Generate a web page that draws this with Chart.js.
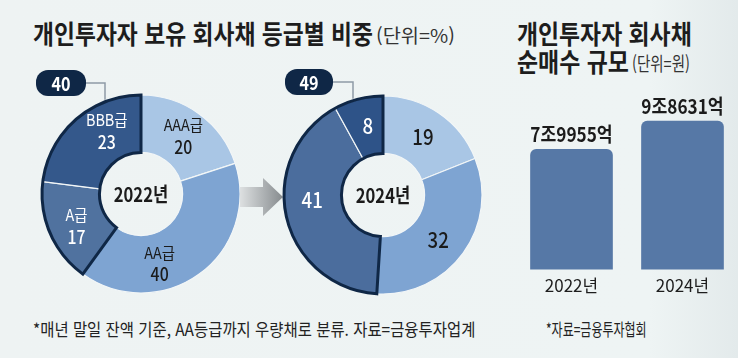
<!DOCTYPE html>
<html lang="ko">
<head>
<meta charset="utf-8">
<script src="https://cdn.jsdelivr.net/npm/chart.js@4.4.1/dist/chart.umd.min.js"></script>
<style>
  html, body { margin: 0; padding: 0; }
  body {
    width: 738px; height: 358px; overflow: hidden; position: relative;
    background: linear-gradient(to right, #eef3f3 0%, #eef4f4 88%, #e3eaeb 100%);
    font-family: "Noto Sans CJK KR", "Noto Sans", sans-serif; color: #1d1d1d;
  }
  .t { position: absolute; white-space: nowrap; line-height: 1; transform-origin: 0 50%; }
  .box { position: absolute; }
</style>
</head>
<body>
<div class="t" data-w="340" style="left:33px; top:20px; font-size:26px; font-weight:700;">개인투자자 보유 회사채 등급별 비중</div>
<div class="t" data-w="79" style="left:376px; top:25px; font-size:19px; color:#333;">(단위=%)</div>
<div class="t" data-w="175" style="left:517px; top:20px; font-size:26px; font-weight:700;">개인투자자 회사채</div>
<div class="t" data-w="112" style="left:517px; top:48px; font-size:26px; font-weight:700;">순매수 규모</div>
<div class="t" data-w="58" style="left:632px; top:53px; font-size:19px; color:#333;">(단위=원)</div>
<div class="t" data-w="442" style="left:33px; top:320px; font-size:17px; color:#222;">*매년 말일 잔액 기준, AA등급까지 우량채로 분류. 자료=금융투자업계</div>
<div class="t" data-w="101" style="left:546px; top:320px; font-size:17px; color:#222;">*자료=금융투자협회</div>

<div class="box" style="left:0; top:0; width:282px; height:388px;"><canvas id="ring2022"></canvas></div>
<div class="box" style="left:0; top:0; width:766px; height:390px;"><canvas id="ring2024"></canvas></div>
<div class="box" style="left:516px; top:89px; width:222px; height:213px;"><canvas id="netBuy"></canvas></div>

<script>
// 데이터
const years = ["2022년", "2024년"];
const grades = ["AAA급", "AA급", "A급", "BBB급"];
const share2022 = [20, 40, 17, 23];
const share2024 = [19, 32, 41, 8];
const netBuy = [79955, 98631]; // 억원
const lowGrades = [2, 3];      // A급, BBB급 묶음

const NAVY = "#0f2746";
const FONT = '"Noto Sans CJK KR", "Noto Sans", sans-serif';

// 제목/주석 글자 폭 맞추기 (좁은 글꼴 느낌)
document.querySelectorAll(".t").forEach(el => {
  const w = el.offsetWidth;
  el.style.transform = "scaleX(" + (Number(el.dataset.w) / w) + ")";
});

function drawText(ctx, s, x, y, font, color, sx) {
  ctx.save();
  ctx.font = font;
  ctx.fillStyle = color;
  ctx.textAlign = "center";
  ctx.textBaseline = "middle";
  ctx.translate(x, y);
  ctx.scale(sx, 1);
  ctx.fillText(s, 0, 0);
  ctx.restore();
}

function roundRect(ctx, x, y, w, h, r) {
  ctx.beginPath();
  ctx.moveTo(x + r, y);
  ctx.arcTo(x + w, y, x + w, y + h, r);
  ctx.arcTo(x + w, y + h, x, y + h, r);
  ctx.arcTo(x, y + h, x, y, r);
  ctx.arcTo(x, y, x + w, y, r);
  ctx.closePath();
}

// 도넛 장식: 묶음 테두리, 라벨, 가운데 연도, 말풍선
function ringDeco(o) {
  return {
    id: "ringDeco",
    beforeDatasetsDraw(chart) {
      if (!o.arrow) return;
      const ctx = chart.ctx;
      const g = ctx.createLinearGradient(240, 0, 283, 0);
      g.addColorStop(0, "#dde0e1");
      g.addColorStop(1, "#868b8e");
      ctx.save();
      ctx.fillStyle = g;
      ctx.beginPath();
      ctx.moveTo(240, 187); ctx.lineTo(263, 187); ctx.lineTo(263, 178);
      ctx.lineTo(283, 197); ctx.lineTo(263, 216); ctx.lineTo(263, 207);
      ctx.lineTo(240, 207);
      ctx.closePath();
      ctx.fill();
      ctx.restore();
    },
    afterDatasetsDraw(chart) {
      const ctx = chart.ctx;
      const arcs = chart.getDatasetMeta(0).data;
      const vals = chart.data.datasets[0].data;
      const a0 = arcs[lowGrades[0]], a1 = arcs[lowGrades[lowGrades.length - 1]];
      const cx = a0.x, cy = a0.y, ro = a0.outerRadius, ri = a0.innerRadius;

      ctx.save();
      ctx.beginPath();
      ctx.arc(cx, cy, ro, a0.startAngle, a1.endAngle);
      ctx.arc(cx, cy, ri, a1.endAngle, a0.startAngle, true);
      ctx.closePath();
      ctx.lineWidth = 3;
      ctx.strokeStyle = NAVY;
      ctx.stroke();
      ctx.restore();

      arcs.forEach((arc, i) => {
        const mid = (arc.startAngle + arc.endAngle) / 2 + o.shift[i] * Math.PI / 180;
        const r = o.labelR;
        const x = cx + Math.cos(mid) * r, y = cy + Math.sin(mid) * r;
        const col = lowGrades.includes(i) ? "#ffffff" : "#1b1b1b";
        if (o.names) {
          drawText(ctx, grades[i], x, y - 11, "400 16px " + FONT, col, 0.9);
          drawText(ctx, String(vals[i]), x, y + 11, "500 18px " + FONT, col, 0.88);
        } else {
          drawText(ctx, String(vals[i]), x, y, "500 22px " + FONT, col, 0.85);
        }
      });

      drawText(ctx, o.year, cx, cy, "700 20px " + FONT, "#1b1b1b", 0.83);

      // 말풍선 + 연결선
      const p = o.pill;
      const sum = lowGrades.reduce((s, i) => s + vals[i], 0);
      ctx.save();
      ctx.strokeStyle = "#8e9ba6";
      ctx.lineWidth = 1.5;
      ctx.beginPath();
      const dx = o.leadX - cx;
      const yEdge = cy - Math.sqrt(ro * ro - dx * dx) - 2;
      ctx.moveTo(p.x + p.w, p.y + p.h / 2);
      ctx.lineTo(o.leadX, p.y + p.h / 2);
      ctx.lineTo(o.leadX, yEdge);
      ctx.stroke();
      ctx.fillStyle = NAVY;
      roundRect(ctx, p.x, p.y, p.w, p.h, 12);
      ctx.fill();
      ctx.restore();
      drawText(ctx, String(sum), p.x + p.w / 2, p.y + p.h / 2 + 1, "700 19px " + FONT, "#ffffff", 0.85);
    }
  };
}

function ring(id, values, colors, deco) {
  return new Chart(document.getElementById(id), {
    type: "doughnut",
    data: {
      labels: grades,
      datasets: [{
        data: values,
        backgroundColor: colors,
        borderColor: "#f2f6f7",
        borderWidth: 1.2
      }]
    },
    options: {
      responsive: true,
      maintainAspectRatio: false,
      animation: false,
      radius: 99,
      cutout: "42%",
      layout: { padding: 0 },
      plugins: { legend: { display: false }, tooltip: { enabled: false } }
    },
    plugins: [ringDeco(deco)]
  });
}

ring("ring2022", share2022, ["#a9c6e5", "#7ea4d2", "#50729f", "#34588b"], {
  names: true, year: years[0], labelR: 72, shift: [0, 21, -3, 13],
  pill: { x: 36, y: 70, w: 50, h: 26 }, leadX: 105
});

ring("ring2024", share2024, ["#a9c6e5", "#7ea4d2", "#4b6d9d", "#2e5388"], {
  names: false, year: years[1], labelR: 71, shift: [0, 3, 9, 2],
  pill: { x: 285, y: 69, w: 48, h: 26 }, leadX: 353, arrow: true
});

// 순매수 규모 막대
new Chart(document.getElementById("netBuy"), {
  type: "bar",
  data: {
    labels: years,
    datasets: [{
      data: netBuy,
      backgroundColor: "#5678a6",
      borderRadius: 6,
      barThickness: 82
    }]
  },
  options: {
    responsive: true,
    maintainAspectRatio: false,
    animation: false,
    layout: { padding: 0 },
    scales: {
      x: {
        grid: { display: false, drawTicks: false },
        border: { display: false },
        ticks: { font: { family: FONT, size: 17 }, color: "#1d1d1d", padding: 6 }
      },
      y: { display: false, min: 0, max: 120000 }
    },
    plugins: { legend: { display: false }, tooltip: { enabled: false } }
  },
  plugins: [{
    id: "valueLabels",
    afterDatasetsDraw(chart) {
      const ctx = chart.ctx;
      chart.getDatasetMeta(0).data.forEach((bar, i) => {
        const v = netBuy[i];
        const s = Math.floor(v / 10000) + "조" + (v % 10000) + "억";
        drawText(ctx, s, bar.x, bar.y - 15, "700 20px " + FONT, "#1b1b1b", 0.86);
      });
    }
  }]
});
</script>
</body>
</html>
